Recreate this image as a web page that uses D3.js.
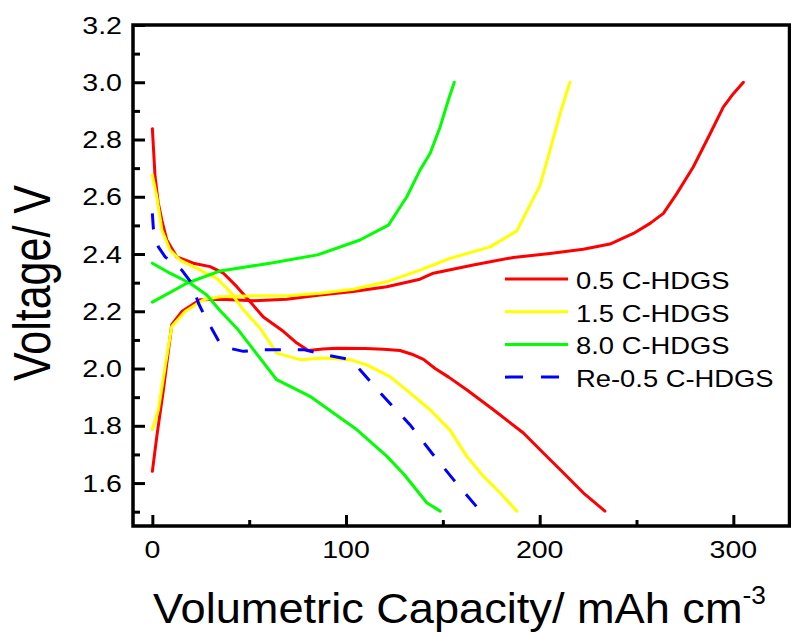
<!DOCTYPE html>
<html>
<head>
<meta charset="utf-8">
<script src="https://cdn.jsdelivr.net/npm/d3@7"></script>
<style>
  html, body { margin: 0; padding: 0; background: #fff; }
  svg { display: block; }
  text { font-family: "Liberation Sans", Arial, sans-serif; fill: #000; }
</style>
</head>
<body>
<svg id="chart"></svg>
<script>
// capacity (mAh cm-3), voltage (V)
const dis05 = [[0,2.838],[1.4,2.67],[3,2.58],[4.9,2.518],[7.4,2.45],[12.6,2.39],[21.2,2.368],[29.8,2.356],[36.7,2.333],[43.6,2.286],[50.4,2.234],[57.3,2.18],[67.6,2.13],[74.6,2.089],[80.5,2.063],[88,2.068],[95.2,2.071],[110,2.07],[119.3,2.067],[127.9,2.063],[134,2.05],[140,2.032],[146,2.0],[153,1.97],[162.3,1.926],[176.1,1.856],[191.6,1.775],[201.9,1.705],[212.2,1.636],[222.5,1.566],[233.7,1.502]];
const chg05 = [[0,1.641],[2.3,1.763],[5.7,1.926],[10,2.153],[15.2,2.199],[24.6,2.24],[35,2.242],[52.2,2.237],[69.4,2.242],[86.6,2.257],[103.8,2.269],[121,2.286],[138.2,2.312],[145.1,2.333],[165.7,2.362],[186.4,2.388],[205.3,2.402],[222.5,2.417],[236.3,2.435],[248.4,2.472],[257,2.507],[263.9,2.542],[270.8,2.611],[279.3,2.704],[288,2.82],[294.8,2.913],[300,2.96],[305.2,3.0]];
const dis15 = [[0,2.675],[2.3,2.6],[4.9,2.484],[9.1,2.414],[14.3,2.379],[22.9,2.35],[33.3,2.315],[40.1,2.269],[47,2.205],[55.6,2.141],[64.2,2.054],[76.3,2.031],[88.3,2.037],[102.1,2.031],[110.7,2.013],[122.7,1.972],[133,1.915],[143.4,1.856],[153.7,1.785],[162.3,1.694],[170.9,1.624],[179.5,1.566],[188.2,1.502]];
const chg15 = [[0,1.787],[3.1,1.856],[6.6,2.007],[10,2.147],[16.9,2.199],[26.3,2.24],[35,2.251],[52.2,2.254],[69.4,2.254],[86.6,2.263],[103.8,2.277],[121,2.303],[138.2,2.344],[153.7,2.385],[174.4,2.425],[188.2,2.481],[200.2,2.64],[205.3,2.762],[210.5,2.89],[215.6,3.0]];
const dis80 = [[0,2.368],[9.1,2.333],[19.5,2.298],[28.1,2.257],[35,2.202],[43.6,2.141],[52.2,2.066],[64.2,1.961],[81.4,1.903],[93.5,1.845],[105.5,1.787],[121,1.694],[130,1.63],[141.7,1.531],[148.6,1.502]];
const chg80 = [[0,2.232],[17.8,2.298],[35,2.341],[60.8,2.368],[85.3,2.397],[107.2,2.449],[121.9,2.501],[131.4,2.6],[138.2,2.693],[143.4,2.751],[148.6,2.844],[152.8,2.937],[155.9,3.0]];
const re05 = [[0,2.542],[0.5,2.49],[3.1,2.425],[6.6,2.39],[15.2,2.344],[20.3,2.298],[23.8,2.228],[27.2,2.181],[35.8,2.077],[47,2.06],[55.6,2.066],[78,2.066],[91.8,2.045],[102.1,2.031],[107.2,1.996],[119.3,1.903],[133,1.804],[144.3,1.705],[155.4,1.613],[169,1.505]];

const seriesNames = ['0.5 C-HDGS', '1.5 C-HDGS', '8.0 C-HDGS', 'Re-0.5 C-HDGS'];
const seriesColors = ['#ff0000', '#ffff00', '#00ff00', '#0000ff'];
const seriesData = [[dis05, chg05], [dis15, chg15], [dis80, chg80], [re05]];

const xMajor = [0, 100, 200, 300];
const xMinor = [50, 150, 250];
const yMajor = [1.6, 1.8, 2.0, 2.2, 2.4, 2.6, 2.8, 3.0, 3.2];
const yMinor = [1.5, 1.7, 1.9, 2.1, 2.3, 2.5, 2.7, 2.9, 3.1];

const width = 791;
const height = 635;
const margin = { top: 25, right: 1.5, bottom: 109, left: 133 };
const stretch = 1.19; // the figure's glyphs are a little wide

const svg = d3.select('#chart').attr('width', width).attr('height', height);

const x = d3.scaleLinear()
  .domain([-10, 329])
  .range([margin.left, width - margin.right]);

const y = d3.scaleLinear()
  .domain([1.45, 3.2])
  .range([height - margin.bottom, margin.top]);

const line = d3.line()
  .x(d => x(d[0]))
  .y(d => y(d[1]));

// curves
const plot = svg.append('g');
seriesData.forEach((branches, i) => {
  branches.forEach(b => {
    plot.append('path')
      .datum(b)
      .attr('d', line)
      .attr('fill', 'none')
      .attr('stroke', seriesColors[i])
      .attr('stroke-width', 3)
      .attr('stroke-linejoin', 'round')
      .attr('stroke-linecap', i === 3 ? 'butt' : 'round')
      .attr('stroke-dasharray', i === 3 ? '16,17' : null);
  });
});

// axes, ticks pointing inward
const axisStyle = g => {
  g.select('.domain').remove();
  g.selectAll('line').attr('stroke', '#000').attr('stroke-width', 3);
  g.selectAll('text').remove();
};

svg.append('g')
  .attr('transform', `translate(0,${y(1.45)})`)
  .call(d3.axisBottom(x).tickValues(xMajor).tickSize(-11))
  .call(axisStyle);
svg.append('g')
  .attr('transform', `translate(0,${y(1.45)})`)
  .call(d3.axisBottom(x).tickValues(xMinor).tickSize(-6))
  .call(axisStyle);
svg.append('g')
  .attr('transform', `translate(${x(-10)},0)`)
  .call(d3.axisLeft(y).tickValues(yMajor).tickSize(-12))
  .call(axisStyle);
svg.append('g')
  .attr('transform', `translate(${x(-10)},0)`)
  .call(d3.axisLeft(y).tickValues(yMinor).tickSize(-7))
  .call(axisStyle);

// frame
svg.append('rect')
  .attr('x', x(-10))
  .attr('y', y(3.2))
  .attr('width', x(329) - x(-10))
  .attr('height', y(1.45) - y(3.2))
  .attr('fill', 'none')
  .attr('stroke', '#000')
  .attr('stroke-width', 3.5);

// tick labels
svg.append('g')
  .selectAll('text')
  .data(xMajor)
  .enter()
  .append('text')
  .attr('transform', d => `translate(${x(d)},558) scale(${stretch},1)`)
  .attr('text-anchor', 'middle')
  .style('font-size', '24px')
  .text(d3.format('d'));

svg.append('g')
  .selectAll('text')
  .data(yMajor)
  .enter()
  .append('text')
  .attr('transform', d => `translate(122,${y(d)}) scale(${stretch},1)`)
  .attr('text-anchor', 'end')
  .attr('dy', '0.36em')
  .style('font-size', '24px')
  .text(d3.format('.1f'));

// axis titles
svg.append('text')
  .attr('transform', `translate(50,283) scale(1.2,1) rotate(-90)`)
  .attr('text-anchor', 'middle')
  .style('font-size', '43px')
  .text('Voltage/ V');

const xt = svg.append('text')
  .attr('transform', `translate(153,623) scale(1.05,1)`)
  .style('font-size', '43px');
xt.append('tspan').text('Volumetric Capacity/ mAh cm');
xt.append('tspan').attr('dy', -19).style('font-size', '25px').text('-3');

// legend
const legend = svg.append('g').attr('transform', 'translate(505,279)');
seriesNames.forEach((name, i) => {
  const row = legend.append('g').attr('transform', `translate(0,${i * 32.7})`);
  row.append('line')
    .attr('x1', 0).attr('x2', 63)
    .attr('stroke', seriesColors[i])
    .attr('stroke-width', 3)
    .attr('stroke-dasharray', i === 3 ? '18,18' : null);
  row.append('text')
    .attr('transform', `translate(71,10) scale(${stretch},1)`)
    .style('font-size', '23px')
    .text(name);
});
</script>
</body>
</html>
